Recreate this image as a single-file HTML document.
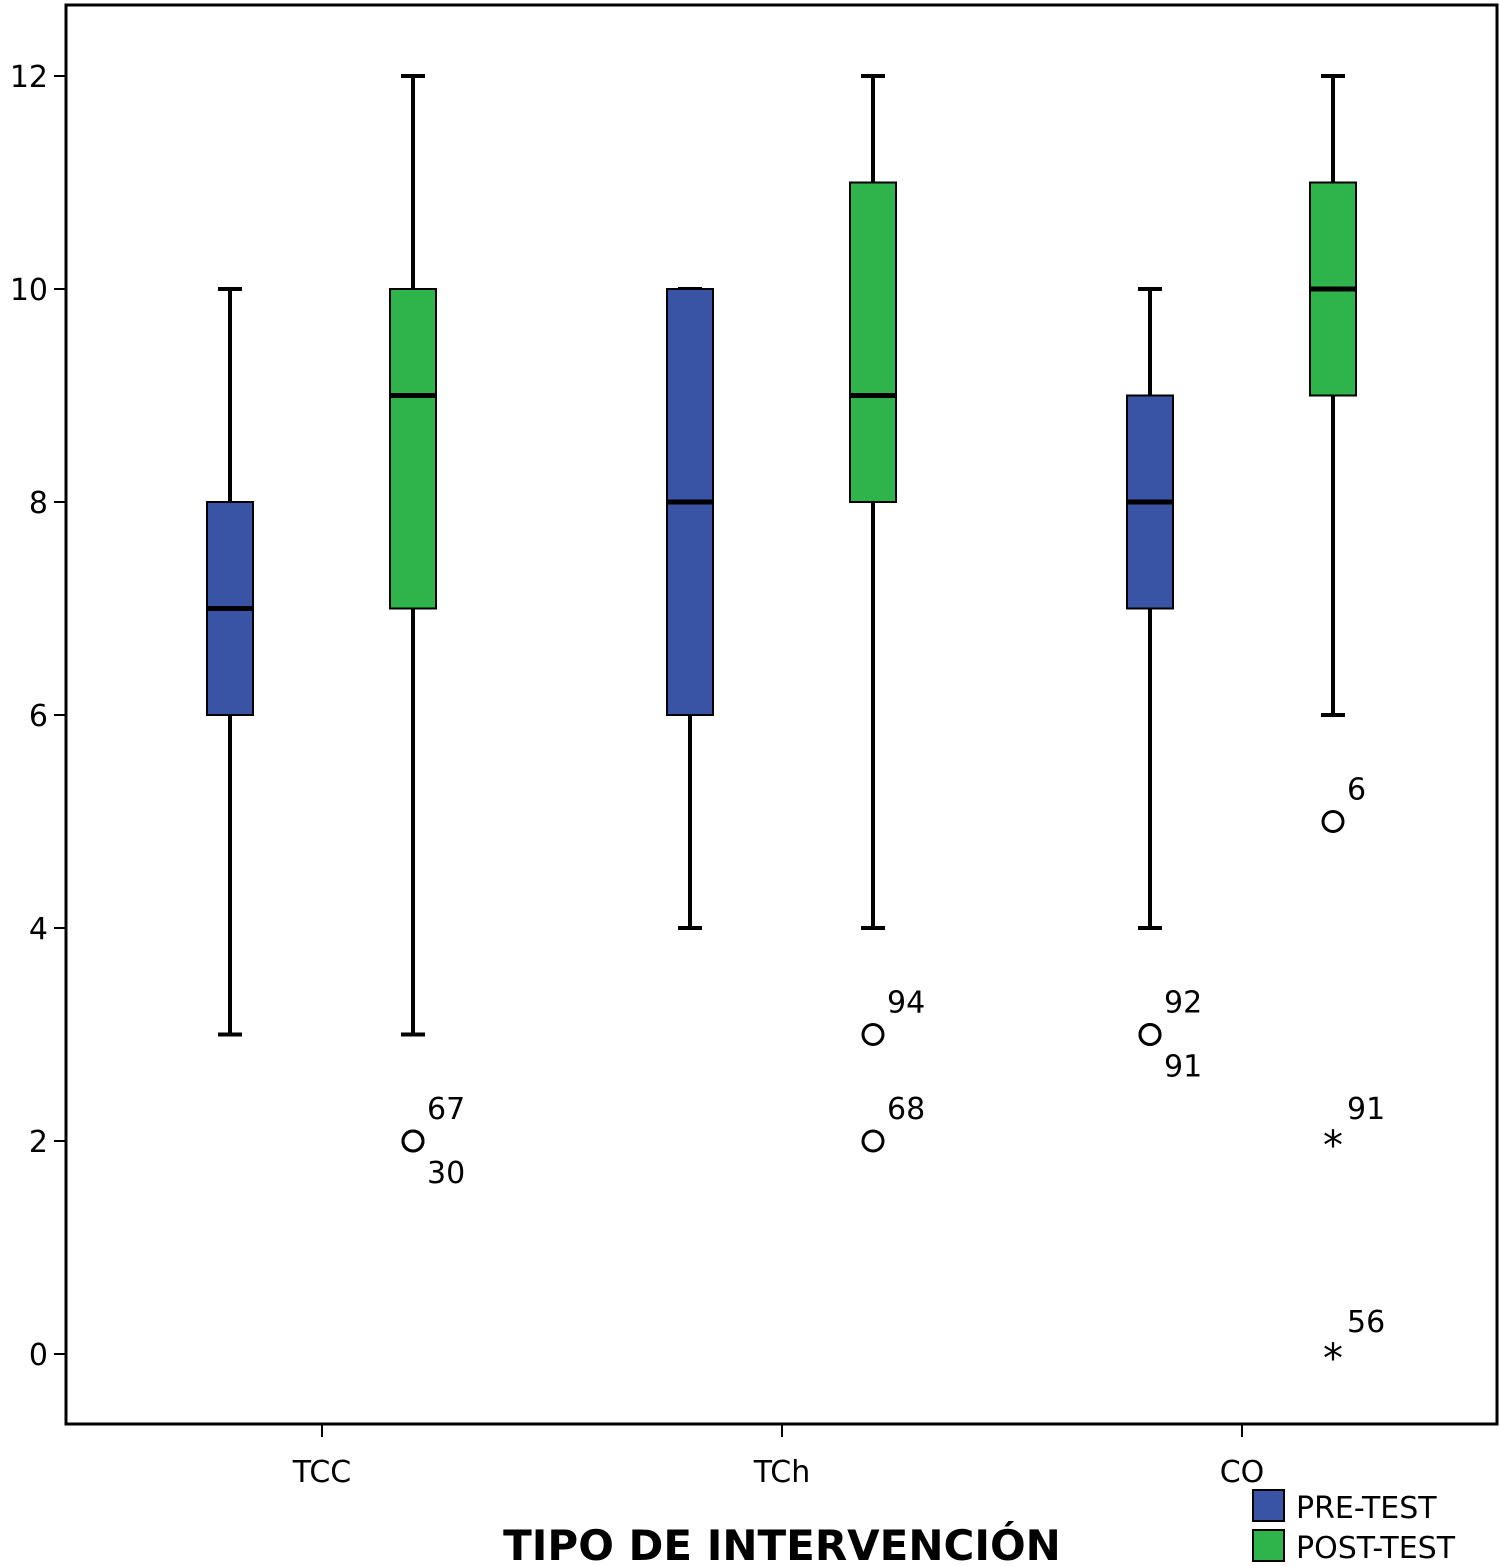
<!DOCTYPE html>
<html><head><meta charset="utf-8"><style>
body{margin:0;background:#fff;}
svg{display:block;font-family:"DejaVu Sans","Liberation Sans",sans-serif;}
</style></head><body>
<svg id="chart" width="1500" height="1566">
<rect x="66" y="5" width="1431" height="1419" fill="#fff" stroke="#000" stroke-width="3"/>
<g id="g"></g>
</svg>
<script>
const categories=["TCC","TCh","CO"];
const seriesNames=["PRE-TEST","POST-TEST"];
const yTicks=[0,2,4,6,8,10,12];
// [whiskerLow, q1, median, q3, whiskerHigh]
const preStats=[[3,6,7,8,10],[4,6,8,10,10],[4,7,8,9,10]];
const postStats=[[3,7,9,10,12],[4,8,9,11,12],[6,9,10,11,12]];
// outliers: [categoryIndex, seriesIndex, value, label, labelPos, type]
const outliers=[[0,1,2,"67","up","o"],[0,1,2,"30","down","o"],[1,1,3,"94","up","o"],[1,1,2,"68","up","o"],[2,0,3,"92","up","o"],[2,0,3,"91","down","o"],[2,1,5,"6","up","o"],[2,1,2,"91","up","*"],[2,1,0,"56","up","*"]];
const colors=["#3a54a5","#2fb34b"];
const NS="http://www.w3.org/2000/svg";
const g=document.getElementById('g');
const y=v=>1354-(1354-76)*v/12;
const xc=i=>322+460*i;
const xs=(i,s)=>xc(i)+(s?91:-92);
function el(t,a,p){const e=document.createElementNS(NS,t);for(const k in a)e.setAttribute(k,a[k]);(p||g).appendChild(e);return e;}
yTicks.forEach(v=>{
 const t=el('line',{x1:54,x2:66,y1:y(v),y2:y(v),stroke:'#000','stroke-width':2});
 
 
 const l=el('text',{x:48,y:y(v)+11,'text-anchor':'end','font-size':30});
 l.textContent=v;
 
 
});
categories.forEach((c,i)=>{
 const t=el('line',{x1:xc(i),x2:xc(i),y1:1424,y2:1437,stroke:'#000','stroke-width':2});
 
 
 const l=el('text',{x:xc(i),y:1482,'text-anchor':'middle','font-size':30});
 l.textContent=c;
 
 
});
[preStats,postStats].forEach((st,s)=>{
 st.forEach((d,i)=>{
  const x=xs(i,s),w=46;
  const grp=el('g',{});
  
  
  el('line',{x1:x,x2:x,y1:y(d[0]),y2:y(d[1]),stroke:'#000','stroke-width':4},grp);
  el('line',{x1:x,x2:x,y1:y(d[3]),y2:y(d[4]),stroke:'#000','stroke-width':4},grp);
  el('line',{x1:x-12,x2:x+12,y1:y(d[0]),y2:y(d[0]),stroke:'#000','stroke-width':4},grp);
  el('line',{x1:x-12,x2:x+12,y1:y(d[4]),y2:y(d[4]),stroke:'#000','stroke-width':4},grp);
  el('rect',{x:x-w/2,y:y(d[3]),width:w,height:y(d[1])-y(d[3]),fill:colors[s],stroke:'#000','stroke-width':2},grp);
  el('line',{x1:x-w/2,x2:x+w/2,y1:y(d[2]),y2:y(d[2]),stroke:'#000','stroke-width':5},grp);
 });
});
outliers.forEach(o=>{
 const x=xs(o[0],o[1]),yy=y(o[2]);
 if(o[5]==="o"){const c=el('circle',{cx:x,cy:yy,r:10,fill:'none',stroke:'#000','stroke-width':3});
  }
 else{const c=el('text',{x:x,y:yy+18,'text-anchor':'middle','font-size':40});c.textContent='*';
  }
 const l=el('text',{x:x+14,y:o[4]==="up"?yy-22:yy+42,'font-size':30});
 l.textContent=o[3];
 
 
});
const xt=el('text',{x:782,y:1560,'text-anchor':'middle','font-size':42,'font-weight':'bold'});
xt.textContent="TIPO DE INTERVENCIÓN";


seriesNames.forEach((n,s)=>{
 const r=el('rect',{x:1253,y:1490+s*40,width:31,height:31,fill:colors[s],stroke:'#000','stroke-width':2});
 
 
 const t=el('text',{x:1296,y:1518+s*40,'font-size':30});
 t.textContent=n;
 
 
});
</script>
</body></html>
